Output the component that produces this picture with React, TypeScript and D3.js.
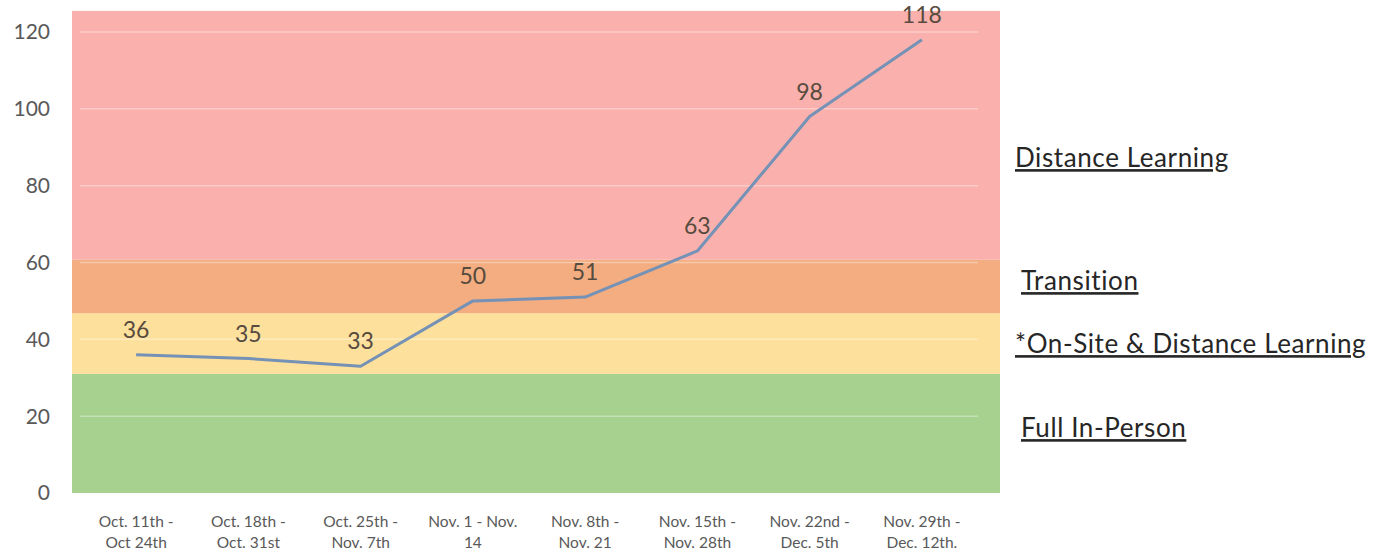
import React, { useEffect } from "react";
import { scaleBand, scaleLinear, line } from "d3";

const weeks = [
  ["Oct. 11th -", "Oct 24th"],
  ["Oct. 18th -", "Oct. 31st"],
  ["Oct. 25th -", "Nov. 7th"],
  ["Nov. 1 - Nov.", "14"],
  ["Nov. 8th -", "Nov. 21"],
  ["Nov. 15th -", "Nov. 28th"],
  ["Nov. 22nd -", "Dec. 5th"],
  ["Nov. 29th -", "Dec. 12th."],
];
const cases = [36, 35, 33, 50, 51, 63, 98, 118];
const yTicks = [0, 20, 40, 60, 80, 100, 120];

const zoneNames = ["Full In-Person", "*On-Site & Distance Learning", "Transition", "Distance Learning"];
const zoneLow = [0, 31, 46.8, 60.7];
const zoneHigh = [31, 46.8, 60.7, 125.5];
const zoneColors = ["#a7d18f", "#fde09b", "#f3ad80", "#fab1ad"];
const zoneLabelX = [1021, 1015, 1021, 1015];
const zoneLabelY = [428, 344, 281, 158];

const App = () => {
  useEffect(() => {
    document.body.style.margin = "0";
  }, []);

  const width = 1376;
  const height = 552;
  const plotLeft = 80;
  const plotRight = 978;
  const bandLeft = 72;
  const bandRight = 1000;

  const x = scaleBand<number>()
    .domain(weeks.map((_, i) => i))
    .range([plotLeft, plotRight]);
  const y = scaleLinear().domain([0, 120]).range([493, 32]);
  const cx = (i: number) => (x(i) as number) + x.bandwidth() / 2;

  const path = line<number>()
    .x((_, i) => cx(i))
    .y((d) => y(d))(cases);

  const font = "Lato, 'Open Sans', sans-serif";

  return (
    <svg width={width} height={height} style={{ display: "block", background: "#fff" }}>
      {zoneNames.map((name, i) => (
        <rect
          key={name}
          x={bandLeft}
          y={y(zoneHigh[i])}
          width={bandRight - bandLeft}
          height={y(zoneLow[i]) - y(zoneHigh[i])}
          fill={zoneColors[i]}
        />
      ))}
      {yTicks.slice(1).map((t) => (
        <line
          key={t}
          x1={plotLeft}
          x2={plotRight}
          y1={y(t)}
          y2={y(t)}
          stroke="#ffffff"
          strokeOpacity={0.35}
          strokeWidth={1.5}
        />
      ))}
      {yTicks.map((t) => (
        <text
          key={t}
          x={50}
          y={y(t)}
          dy="0.35em"
          textAnchor="end"
          fontFamily={font}
          fontSize={21}
          fill="#595959"
        >
          {t}
        </text>
      ))}
      {weeks.map((w, i) => (
        <text key={i} textAnchor="middle" fontFamily={font} fontSize={15.5} fill="#595959">
          <tspan x={cx(i)} y={527}>
            {w[0]}
          </tspan>
          <tspan x={cx(i)} y={548}>
            {w[1]}
          </tspan>
        </text>
      ))}
      <path d={path ?? ""} fill="none" stroke="#7592b6" strokeWidth={3} strokeLinejoin="round" />
      {cases.map((v, i) => (
        <text
          key={i}
          x={cx(i)}
          y={y(v) - 25}
          dy="0.35em"
          textAnchor="middle"
          fontFamily={font}
          fontSize={23}
          fill="#574a3e"
        >
          {v}
        </text>
      ))}
      {zoneNames.map((name, i) => (
        <text
          key={name}
          x={zoneLabelX[i]}
          y={zoneLabelY[i]}
          dy="0.35em"
          fontFamily={font}
          fontSize={26}
          letterSpacing={0.6}
          fill="#262626"
          textDecoration="underline"
        >
          {name}
        </text>
      ))}
    </svg>
  );
};

export default App;
